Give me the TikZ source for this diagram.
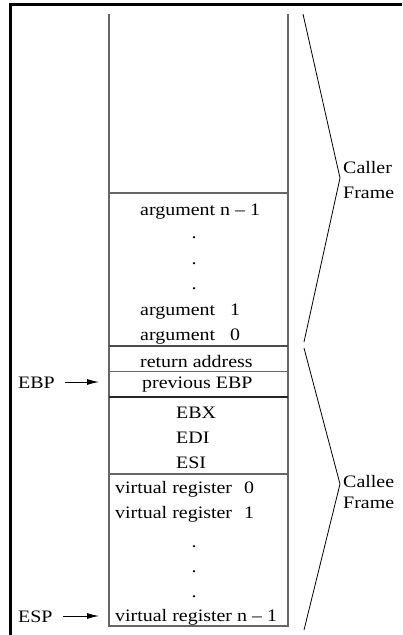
\documentclass[tikz,border=0pt]{standalone}
\usepackage{fontspec}
\setmainfont{Liberation Serif}[FakeStretch=1.14]
\usetikzlibrary{arrows.meta}
\begin{document}
\begin{tikzpicture}[x=1pt,y=-1pt,
  lbl/.style={inner sep=0pt, anchor=base west, font=\fontsize{17.5}{20}\selectfont},
  dotlbl/.style={inner sep=0pt, anchor=base, font=\fontsize{17.5}{20}\selectfont},
  frameline/.style={line width=3pt, black},
  stackline/.style={line width=1.3pt, black!60},
  sepline/.style={line width=1.3pt, black!85},
  braceline/.style={line width=0.8pt, black, line join=miter},
  pointer/.style={line width=0.9pt, -{Latex[length=12pt,width=6pt]}}]
\useasboundingbox (0,0) rectangle (402,635);

% outer frame (left and top only)
\draw[frameline] (10,635) -- (10,4) -- (402,4);

% stack column
\draw[stackline] (109,14) -- (109,626) -- (288,626) -- (288,14);
\draw[stackline] (109,193) -- (288,193);
\draw[stackline, line width=2.4pt, black!70] (109,346.2) -- (288,346.2);
\draw[stackline] (109,371.5) -- (288,371.5);
\draw[sepline] (109,397) -- (288,397);
\draw[stackline] (109,474) -- (288,474);

% caller arguments
\node[lbl] (argn) at (140,215) {argument n – 1};
\node[dotlbl] (ad1) at (194,238) {.};
\node[dotlbl] (ad2) at (194,264) {.};
\node[dotlbl] (ad3) at (194,289) {.};
\node[lbl] (arg1) at (140,315) {argument\hspace{15pt}1};
\node[lbl] (arg0) at (140,340) {argument\hspace{15pt}0};

% linkage
\node[lbl] (ret) at (140,367) {return address};
\node[lbl] (prev) at (142,388) {previous EBP};

% saved registers
\node[lbl] (ebx) at (176,418) {EBX};
\node[lbl] (edi) at (176,443) {EDI};
\node[lbl] (esi) at (176,468) {ESI};

% virtual registers
\node[lbl] (vr0) at (115,493) {virtual register\hspace{12pt}0};
\node[lbl] (vr1) at (115,518) {virtual register\hspace{12pt}1};
\node[dotlbl] (vd1) at (194,547) {.};
\node[dotlbl] (vd2) at (194,572) {.};
\node[dotlbl] (vd3) at (194,597) {.};
\node[lbl] (vrn) at (115,621) {virtual register n – 1};

% frame pointers
\node[lbl] (ebp) at (18,388) {EBP};
\node[lbl] (esp) at (18,622) {ESP};
\coordinate (ebptip) at (99,382);
\coordinate (esptip) at (99,616);
\draw[pointer] (ebp.east |- ebptip) ++(10,0) -- (ebptip);
\draw[pointer] (esp.east |- esptip) ++(10,0) -- (esptip);

% frame braces
\draw[braceline] (303,14) -- (340,178) -- (304,342);
\draw[braceline] (304,348) -- (340,484) -- (304,630);
\node[lbl] (callerA) at (343,173) {Caller};
\node[lbl] (callerB) at (343,198) {Frame};
\node[lbl] (calleeA) at (343,487) {Callee};
\node[lbl] (calleeB) at (343,508) {Frame};
\end{tikzpicture}
\end{document}
